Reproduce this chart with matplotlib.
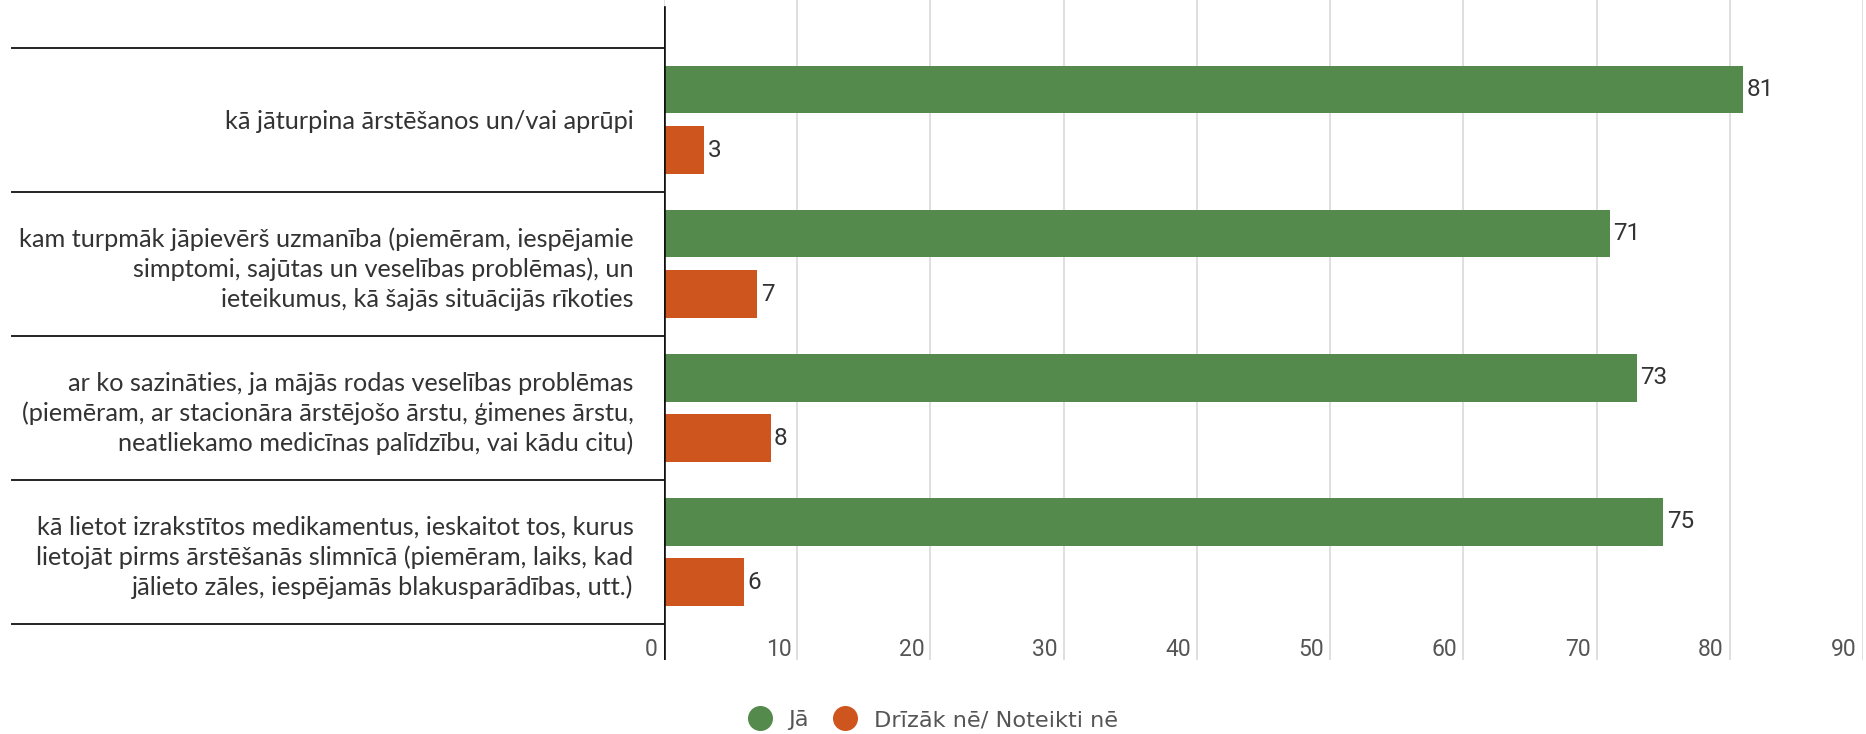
import matplotlib
matplotlib.use("Agg")
import matplotlib.pyplot as plt
from matplotlib.lines import Line2D
from matplotlib.transforms import ScaledTranslation, blended_transform_factory

# ---- data ----
categories = [
    "kā jāturpina ārstēšanos un/vai aprūpi",
    "kam turpmāk jāpievērš uzmanība (piemēram, iespējamie\nsimptomi, sajūtas un veselības problēmas), un\nieteikumus, kā šajās situācijās rīkoties",
    "ar ko sazināties, ja mājās rodas veselības problēmas\n(piemēram, ar stacionāra ārstējošo ārstu, ģimenes ārstu,\nneatliekamo medicīnas palīdzību, vai kādu citu)",
    "kā lietot izrakstītos medikamentus, ieskaitot tos, kurus\nlietojāt pirms ārstēšanās slimnīcā (piemēram, laiks, kad\njālieto zāles, iespējamās blakusparādības, utt.)",
]
series_names = ["Jā", "Drīzāk nē/ Noteikti nē"]
ja_values = [81, 71, 73, 75]
ne_values = [3, 7, 8, 6]
x_ticks = [0, 10, 20, 30, 40, 50, 60, 70, 80, 90]

GREEN = "#548a4b"
ORANGE = "#cf551f"

LABEL_FONT = ["Lato", "DejaVu Sans"]
NUM_FONT = ["Roboto", "DejaVu Sans"]
LEG_FONT = ["DejaVu Sans"]

W, H = 1866, 734
fig = plt.figure(figsize=(W / 100, H / 100), dpi=100)

ax_left, ax_right = 664, 1863
ax_top, ax_bottom = 0, 660
ax = fig.add_axes([ax_left / W, 1 - ax_bottom / H, (ax_right - ax_left) / W, (ax_bottom - ax_top) / H])

n = len(categories)
idx = list(range(n))
bh = 0.33
off = 0.21
b1 = ax.barh([i - off for i in idx], ja_values, height=bh, color=GREEN, zorder=2)
b2 = ax.barh([i + off for i in idx], ne_values, height=bh, color=ORANGE, zorder=2)

for bars in (b1, b2):
    ax.bar_label(bars, padding=2.5, fontsize=17.5, color="#333333", family=NUM_FONT)

ax.set_xlim(0, 90)
ax.set_ylim(3.75, -0.833)

for s in ax.spines.values():
    s.set_visible(False)

# vertical gridlines
ax.set_xticks(x_ticks)
ax.grid(axis="x", color="#d6d6d6", linewidth=1.1, zorder=0)
ax.set_axisbelow(True)
ax.tick_params(axis="x", length=0, pad=-16)
for lab in ax.get_xticklabels():
    lab.set_family(NUM_FONT)
    lab.set_fontsize(16.5)
    lab.set_color("#555555")
    lab.set_ha("right")
    lab.set_transform(lab.get_transform() + ScaledTranslation(-6 / 100, 0, fig.dpi_scale_trans))

# left axis line
ax.axvline(0, ymin=0, ymax=(ax_bottom - 7) / (ax_bottom - ax_top), color="#111111", linewidth=1.9, zorder=5)

# category labels
ax.set_yticks(idx)
ax.set_yticklabels(categories)
ax.tick_params(axis="y", length=0, pad=22)
for lab in ax.get_yticklabels():
    lab.set_family(LABEL_FONT)
    lab.set_fontsize(18.2)
    lab.set_color("#333333")
    lab.set_ha("right")
    lab.set_multialignment("right")
    lab.set_linespacing(1.33)

# separator lines in label area
tr = blended_transform_factory(fig.transFigure, ax.transData)
for yb in [i - 0.5 for i in range(n + 1)]:
    ax.plot([12 / W, ax_left / W], [yb, yb], transform=tr, color="#222222",
            linewidth=1.4, clip_on=False, zorder=4)

# legend
handles = [
    Line2D([], [], marker="o", linestyle="none", markersize=17, color=GREEN),
    Line2D([], [], marker="o", linestyle="none", markersize=17, color=ORANGE),
]
leg = fig.legend(handles, series_names, loc="center", bbox_to_anchor=(0.5, 14 / H),
                 ncol=2, frameon=False, prop={"family": LEG_FONT, "size": 16.2},
                 handletextpad=0.75, columnspacing=1.15, handlelength=1.0)
for t in leg.get_texts():
    t.set_color("#555555")

fig.savefig("out.png", dpi=100)
